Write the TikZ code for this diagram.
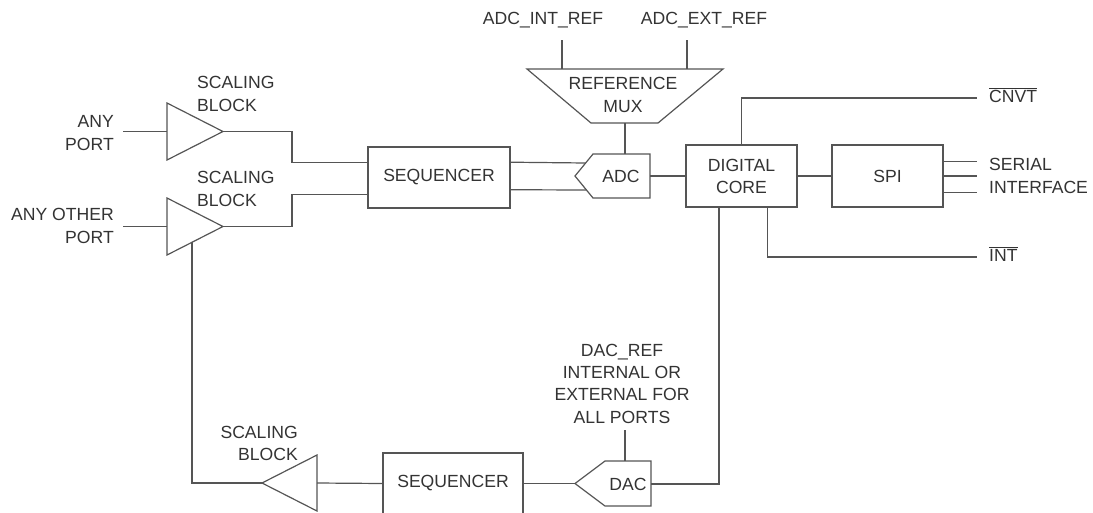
\documentclass[tikz,border=0pt]{standalone}
\usepackage{fontspec}
\setmainfont{Liberation Sans}
\usetikzlibrary{calc}
\definecolor{ln}{HTML}{555555}
\definecolor{tx}{HTML}{333333}
\begin{document}
\begin{tikzpicture}[x=1pt,y=-1pt,
  wire/.style={draw=ln, line width=1.2pt},
  shp/.style={draw=ln, line width=1.2pt, line join=miter},
  blk/.style={draw=ln, line width=1.2pt, rectangle, inner sep=0pt, text=tx, align=center,
              font=\fontsize{17.6}{22}\selectfont},
  lbl/.style={text=tx, inner sep=0pt, font=\fontsize{17.6}{22.3}\selectfont}
]
\useasboundingbox (0,0) rectangle (1093,512);

% ---------- blocks ----------
\node[blk, minimum width=142pt, minimum height=61pt] (seq1) at (439,177.5) {SEQUENCER};
\node[blk, minimum width=111pt, minimum height=62pt] (core) at (741.5,176) {DIGITAL\\CORE};
\node[blk, minimum width=111pt, minimum height=62pt] (spi) at (887.5,176) {SPI};
\node[blk, minimum width=140pt, minimum height=61pt] (seq2) at (453,483.5) {SEQUENCER};

% ---------- scaling blocks (triangles) ----------
\coordinate (a1t) at (167,103);  \coordinate (a1b) at (167,160);  \coordinate (a1o) at (223,131.5);
\coordinate (a1in) at (167,131.5);
\draw[shp] (a1t) -- (a1o) -- (a1b) -- cycle;
\coordinate (a2t) at (167,198);  \coordinate (a2b) at (167,255);  \coordinate (a2o) at (223,226.5);
\coordinate (a2in) at (167,226.5);
\draw[shp] (a2t) -- (a2o) -- (a2b) -- cycle;
\coordinate (a3t) at (317,455);  \coordinate (a3b) at (317,511);  \coordinate (a3o) at (262,483);
\coordinate (a3in) at (317,483);
\draw[shp] (a3t) -- (a3o) -- (a3b) -- cycle;
\coordinate (a2fb) at ($(a2b)!25/56!(a2o)$);

% ---------- ADC ----------
\coordinate (adcP) at (575,176);  \coordinate (adcTL) at (593,154); \coordinate (adcTR) at (650,154);
\coordinate (adcBR) at (650,198); \coordinate (adcBL) at (593,198);
\draw[shp] (adcP) -- (adcTL) -- (adcTR) -- (adcBR) -- (adcBL) -- cycle;
\node[lbl] (adc) at (621,176.5) {ADC};
\coordinate (adcR) at (650,176);
\coordinate (adcU) at ($(adcP)!13/22!(adcTL)$);
\coordinate (adcL) at ($(adcP)!14/22!(adcBL)$);
\coordinate (adcTop) at (625,154);

% ---------- reference mux ----------
\coordinate (muxTL) at (527,69); \coordinate (muxTR) at (723,69);
\coordinate (muxBR) at (658,123); \coordinate (muxBL) at (591,123);
\draw[shp] (muxTL) -- (muxTR) -- (muxBR) -- (muxBL) -- cycle;
\node[lbl, align=center] (mux) at (623,95) {REFERENCE\\MUX};
\coordinate (muxOut) at (625,123);
\coordinate (muxI1) at (562,69); \coordinate (muxI2) at (687,69);

% ---------- DAC ----------
\coordinate (dacP) at (575,483.5); \coordinate (dacTL) at (605,461); \coordinate (dacTR) at (651,461);
\coordinate (dacBR) at (651,506);  \coordinate (dacBL) at (605,506);
\draw[shp] (dacP) -- (dacTL) -- (dacTR) -- (dacBR) -- (dacBL) -- cycle;
\node[lbl] (dac) at (628,484) {DAC};
\coordinate (dacR) at (651,484);
\coordinate (dacTop) at (625,461);

% ---------- labels ----------
\node[lbl, align=right, anchor=east] (inA) at (114,133) {ANY\\PORT};
\node[lbl, align=right, anchor=east] (inB) at (114,226) {ANY OTHER\\PORT};
\node[lbl, align=left, anchor=west] (sc1) at (197,94) {SCALING\\BLOCK};
\node[lbl, align=left, anchor=west] (sc2) at (197,189) {SCALING\\BLOCK};
\node[lbl, align=right, anchor=east] (sc3) at (298,443.5) {SCALING\\BLOCK};
\node[lbl] (intref) at (543,20) {ADC\_INT\_REF};
\node[lbl] (extref) at (704,20) {ADC\_EXT\_REF};
\node[lbl, align=center] (dacref) at (622,383.5) {DAC\_REF\\INTERNAL OR\\EXTERNAL FOR\\ALL PORTS};
\node[lbl, anchor=west] (cnvt) at (989,95) {$\overline{\mbox{CNVT}}$};
\node[lbl, align=left, anchor=west] (ser) at (989,176) {SERIAL\\INTERFACE};
\node[lbl, anchor=west] (int) at (989,254) {$\overline{\mbox{INT}}$};

% ---------- free ends ----------
\coordinate (inAe) at (123,131.5);
\coordinate (inBe) at (123,226.5);
\coordinate (intrefE) at (562,40);
\coordinate (extrefE) at (687,40);
\coordinate (dacrefE) at (625,430);
\coordinate (cnvtE) at (977,98);
\coordinate (intE) at (977,257);

% ---------- connectors ----------
\draw[wire] (inAe) -- (a1in);
\draw[wire] (inBe) -- (a2in);
\coordinate (s1a) at ($(seq1.north west)!15.5/61!(seq1.south west)$);
\coordinate (s1b) at ($(seq1.north west)!47.5/61!(seq1.south west)$);
\coordinate (s1c) at ($(seq1.north east)!15.5/61!(seq1.south east)$);
\coordinate (s1d) at ($(seq1.north east)!42.5/61!(seq1.south east)$);
\coordinate (k1) at (292,131.5);
\coordinate (k2) at (292,226.5);
\draw[wire] (a1o) -- (k1) |- (s1a);
\draw[wire] (a2o) -- (k2) |- (s1b);
\draw[wire] (s1c) -- (adcU);
\draw[wire] (s1d) -- (adcL);
\draw[wire] (muxOut) -- (adcTop);
\draw[wire] (intrefE) -- (muxI1);
\draw[wire] (extrefE) -- (muxI2);
\draw[wire] (adcR) -- (core.west);
\draw[wire] (core.east) -- (spi.west);
\draw[wire] (core.north) |- (cnvtE);
\coordinate (coreI) at ($(core.south west)!0.73!(core.south east)$);
\coordinate (coreD) at ($(core.south west)!0.3!(core.south east)$);
\draw[wire] (coreI) |- (intE);
\draw[wire] (coreD) |- (dacR);
\coordinate (sp1) at ($(spi.north east)!0.27!(spi.south east)$);
\coordinate (sp3) at ($(spi.north east)!0.76!(spi.south east)$);
\draw[wire] (sp1) -- (sp1 -| cnvtE);
\draw[wire] (spi.east) -- (spi.east -| cnvtE);
\draw[wire] (sp3) -- (sp3 -| cnvtE);
\draw[wire] (dacrefE) -- (dacTop);
\draw[wire] (dacP) -- (seq2.east);
\draw[wire] (seq2.west) -- (a3in);
\draw[wire] (a3o) -| (a2fb);
\end{tikzpicture}
\end{document}
